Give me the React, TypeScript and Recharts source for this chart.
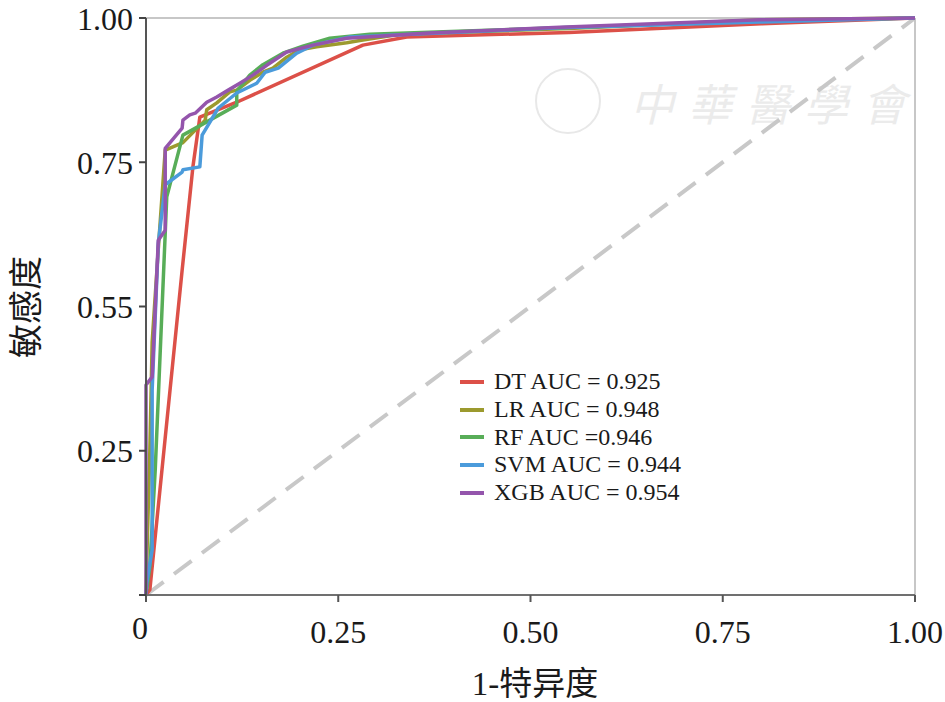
import React from 'react';
import { LineChart, Line, XAxis, YAxis, ReferenceLine } from 'recharts';

type Pt = { x: number; y: number };

// ROC points: x = 1-特异度, y = 敏感度
const dtPoints: Pt[] = [
  { x: 0, y: 0 }, { x: 0.005, y: 0.009 }, { x: 0.047, y: 0.563 }, { x: 0.061, y: 0.742 },
  { x: 0.07, y: 0.828 }, { x: 0.118, y: 0.854 }, { x: 0.282, y: 0.953 }, { x: 0.339, y: 0.967 },
  { x: 0.55, y: 0.975 }, { x: 0.8, y: 0.99 }, { x: 1, y: 1 },
];

const lrPoints: Pt[] = [
  { x: 0, y: 0 }, { x: 0.001, y: 0.06 }, { x: 0.005, y: 0.25 }, { x: 0.008, y: 0.438 },
  { x: 0.016, y: 0.6 }, { x: 0.025, y: 0.771 }, { x: 0.048, y: 0.784 }, { x: 0.077, y: 0.823 },
  { x: 0.079, y: 0.841 }, { x: 0.092, y: 0.853 }, { x: 0.109, y: 0.872 }, { x: 0.118, y: 0.875 },
  { x: 0.135, y: 0.892 }, { x: 0.152, y: 0.906 }, { x: 0.165, y: 0.913 }, { x: 0.183, y: 0.932 },
  { x: 0.2, y: 0.945 }, { x: 0.222, y: 0.95 }, { x: 0.261, y: 0.957 }, { x: 0.282, y: 0.962 },
  { x: 0.33, y: 0.972 }, { x: 0.55, y: 0.982 }, { x: 0.8, y: 0.997 }, { x: 1, y: 1 },
];

const rfPoints: Pt[] = [
  { x: 0, y: 0 }, { x: 0.005, y: 0.049 }, { x: 0.012, y: 0.217 }, { x: 0.025, y: 0.627 },
  { x: 0.027, y: 0.69 }, { x: 0.048, y: 0.797 }, { x: 0.118, y: 0.849 }, { x: 0.118, y: 0.873 },
  { x: 0.135, y: 0.901 }, { x: 0.152, y: 0.919 }, { x: 0.178, y: 0.939 }, { x: 0.204, y: 0.951 },
  { x: 0.239, y: 0.965 }, { x: 0.291, y: 0.972 }, { x: 0.538, y: 0.983 }, { x: 0.798, y: 0.995 },
  { x: 1, y: 1 },
];

const svmPoints: Pt[] = [
  { x: 0, y: 0 }, { x: 0.001, y: 0.021 }, { x: 0.008, y: 0.078 }, { x: 0.008, y: 0.355 },
  { x: 0.016, y: 0.61 }, { x: 0.025, y: 0.711 }, { x: 0.047, y: 0.733 }, { x: 0.048, y: 0.737 },
  { x: 0.07, y: 0.742 }, { x: 0.073, y: 0.797 }, { x: 0.094, y: 0.844 }, { x: 0.118, y: 0.87 },
  { x: 0.144, y: 0.887 }, { x: 0.155, y: 0.906 }, { x: 0.165, y: 0.91 }, { x: 0.172, y: 0.913 },
  { x: 0.196, y: 0.939 }, { x: 0.217, y: 0.953 }, { x: 0.265, y: 0.967 }, { x: 0.382, y: 0.974 },
  { x: 0.538, y: 0.983 }, { x: 0.798, y: 0.993 }, { x: 1, y: 1 },
];

const xgbPoints: Pt[] = [
  { x: 0, y: 0 }, { x: 0, y: 0.364 }, { x: 0.008, y: 0.378 }, { x: 0.016, y: 0.615 },
  { x: 0.025, y: 0.632 }, { x: 0.025, y: 0.774 }, { x: 0.047, y: 0.809 }, { x: 0.048, y: 0.823 },
  { x: 0.057, y: 0.832 }, { x: 0.064, y: 0.835 }, { x: 0.079, y: 0.854 }, { x: 0.092, y: 0.863 },
  { x: 0.107, y: 0.875 }, { x: 0.122, y: 0.887 }, { x: 0.139, y: 0.901 }, { x: 0.157, y: 0.918 },
  { x: 0.183, y: 0.941 }, { x: 0.217, y: 0.953 }, { x: 0.261, y: 0.965 }, { x: 0.369, y: 0.974 },
  { x: 0.538, y: 0.984 }, { x: 0.798, y: 0.997 }, { x: 1, y: 1 },
];

const chancePoints: Pt[] = [{ x: 0, y: 0 }, { x: 1, y: 1 }];

const seriesNames = ['DT AUC = 0.925', 'LR AUC = 0.948', 'RF AUC =0.946', 'SVM AUC = 0.944', 'XGB AUC = 0.954'];
const seriesColors = ['#dc5048', '#9c9a2e', '#58ad58', '#4b9bdb', '#9455ac'];
const seriesData = [dtPoints, lrPoints, rfPoints, svmPoints, xgbPoints];

const xTicks = [0, 0.25, 0.5, 0.75, 1];
const xTickLabels = ['0', '0.25', '0.50', '0.75', '1.00'];
const yTicks = [0, 0.25, 0.5, 0.75, 1];
const yTickLabels = ['', '0.25', '0.55', '0.75', '1.00'];

const serif = '"Liberation Serif", "Times New Roman", "Noto Sans CJK SC", serif';
const titleFont = '"Liberation Serif", "Noto Sans CJK SC", serif';

const XTick = (props: any) => {
  const { x, y, payload } = props;
  const i = xTicks.indexOf(payload.value);
  const isZero = i === 0;
  return (
    <text
      x={x + (isZero ? -6 : 0)}
      y={y + (isZero ? -4 : 0)}
      dy="0.71em"
      textAnchor="middle"
      fontFamily={serif}
      fontSize={32}
      fill="#1a1a1a"
    >
      {xTickLabels[i]}
    </text>
  );
};

const LegendBox = () => (
  <div style={{ position: 'absolute', left: 460, top: 368, fontFamily: serif, fontSize: 24, color: '#1a1a1a' }}>
    {seriesNames.map((n, i) => (
      <div key={n} style={{ display: 'flex', alignItems: 'center', height: 27.7, whiteSpace: 'nowrap' }}>
        <span style={{ display: 'inline-block', width: 24, height: 4, background: seriesColors[i], marginRight: 10 }} />
        <span>{n}</span>
      </div>
    ))}
  </div>
);

const YTitle = () => (
  <text x={26} y={307} transform="rotate(-90 26 307)" textAnchor="middle" dominantBaseline="central"
    fontFamily={titleFont} fontSize={34} fill="#1a1a1a">
    敏感度
  </text>
);

const XTitle = () => (
  <text x={535} y={684} textAnchor="middle" dominantBaseline="central"
    fontFamily={titleFont} fontSize={33} fill="#1a1a1a">
    1-特异度
  </text>
);

export default function App() {
  return (
    <div style={{ position: 'absolute', left: 0, top: 0, width: 945, height: 702, background: '#fff' }}>
      {/* faint watermark */}
      <div style={{ position: 'absolute', left: 535, top: 68, width: 62, height: 62, borderRadius: '50%', border: '2px solid #e8e8e8' }} />
      <div style={{ position: 'absolute', left: 630, top: 70, fontFamily: '"Noto Sans CJK TC", sans-serif', fontSize: 44, color: '#ebebeb', letterSpacing: 14, fontStyle: 'italic' }}>
        中華醫學會
      </div>
      <div style={{ position: 'absolute', left: 0, top: 0 }}>
        <LineChart width={945} height={702} margin={{ top: 18, right: 30, left: 0, bottom: 0 }}>
          <XAxis
            type="number"
            dataKey="x"
            domain={[0, 1]}
            ticks={xTicks}
            tick={<XTick />}
            tickSize={7}
            tickMargin={18}
            height={107}
            axisLine={{ stroke: '#707070', strokeWidth: 2 }}
            tickLine={{ stroke: '#555', strokeWidth: 2 }}
            label={<XTitle />}
          />
          <YAxis
            type="number"
            dataKey="y"
            domain={[0, 1]}
            ticks={yTicks}
            tickFormatter={(v: number) => yTickLabels[yTicks.indexOf(v)]}
            width={146}
            tickSize={7}
            tickMargin={6}
            tick={{ fontFamily: serif, fontSize: 32, fill: '#1a1a1a' }}
            axisLine={{ stroke: '#555', strokeWidth: 2 }}
            tickLine={{ stroke: '#444', strokeWidth: 2 }}
            label={<YTitle />}
          />
          <ReferenceLine y={1} stroke="#b4b4b4" strokeWidth={1.5} />
          <ReferenceLine x={1} stroke="#b4b4b4" strokeWidth={1.5} />
          <Line
            data={chancePoints}
            dataKey="y"
            stroke="#c8c8c8"
            strokeWidth={4}
            strokeDasharray="22 13"
            dot={false}
            legendType="none"
            isAnimationActive={false}
          />
          {seriesData.map((d, i) => (
            <Line
              key={seriesNames[i]}
              data={d}
              dataKey="y"
              name={seriesNames[i]}
              stroke={seriesColors[i]}
              strokeWidth={3.5}
              strokeLinejoin="round"
              dot={false}
              isAnimationActive={false}
            />
          ))}
        </LineChart>
      </div>
      <LegendBox />
    </div>
  );
}
